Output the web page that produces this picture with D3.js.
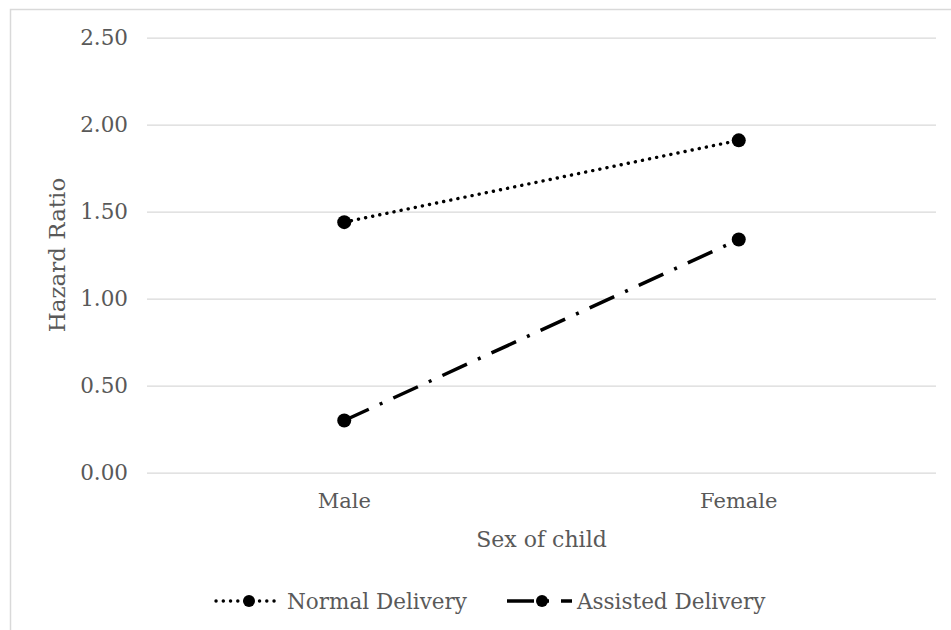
<!DOCTYPE html>
<html>
<head>
<meta charset="utf-8">
<script src="https://cdn.jsdelivr.net/npm/d3@7"></script>
<style>
  html, body { margin: 0; padding: 0; background: #fff; }
  svg { display: block; }
  text { font-family: "DejaVu Serif", serif; fill: #595959; }
</style>
</head>
<body>
<svg id="chart" width="951" height="630"></svg>
<script>
const categories = ["Male", "Female"];
const normalDelivery = [1.44, 1.91];
const assistedDelivery = [0.30, 1.34];
const yTicks = [0, 0.5, 1.0, 1.5, 2.0, 2.5];
const seriesNames = ["Normal Delivery", "Assisted Delivery"];

const svg = d3.select("#chart");
const W = 951, H = 630;

svg.append("rect").attr("x", 0).attr("y", 0).attr("width", W).attr("height", H).attr("fill", "#fff");
svg.append("rect").attr("x", 10.5).attr("y", 9.5).attr("width", 2000).attr("height", 2000)
  .attr("fill", "none").attr("stroke", "#d9d9d9").attr("stroke-width", 1.5);

const x = d3.scaleBand().domain(categories).range([147, 936]);
const y = d3.scaleLinear().domain([0, 2.5]).range([472.7, 37.7]);

// gridlines
const yAxis = d3.axisLeft(y).tickValues(yTicks).tickFormat(d3.format(".2f"))
  .tickSize(-(936 - 147)).tickPadding(19);
const gy = svg.append("g").attr("transform", "translate(147,0)").call(yAxis);
gy.select(".domain").remove();
gy.selectAll(".tick line").attr("stroke", "#d9d9d9").attr("stroke-width", 1.3);
gy.selectAll(".tick text").attr("font-size", 21.5).attr("fill", "#595959")
  .style("font-family", "'DejaVu Serif', serif");

const xAxis = d3.axisBottom(x).tickSize(0).tickPadding(20);
const gx = svg.append("g").attr("transform", "translate(0,472.7)").call(xAxis);
gx.select(".domain").remove();
gx.selectAll(".tick text").attr("font-size", 21).attr("fill", "#595959")
  .style("font-family", "'DejaVu Serif', serif");

// axis titles
svg.append("text").attr("x", (147 + 936) / 2).attr("y", 547).attr("text-anchor", "middle")
  .attr("font-size", 22).text("Sex of child");
svg.append("text").attr("transform", "translate(65,255) rotate(-90)").attr("text-anchor", "middle")
  .attr("font-size", 23).text("Hazard Ratio");

const cx = d => x(d) + x.bandwidth() / 2;
const line = d3.line().x(d => cx(d.c)).y(d => y(d.v));

const styles = [
  { data: normalDelivery, dash: "0.1,7.15", cap: "round", width: 3.4 },
  { data: assistedDelivery, dash: "27,12,3,12", cap: "butt", width: 3.5 }
];

styles.forEach(s => {
  const pts = categories.map((c, i) => ({ c, v: s.data[i] }));
  svg.append("path").datum(pts).attr("d", line).attr("fill", "none")
    .attr("stroke", "#000").attr("stroke-width", s.width)
    .attr("stroke-dasharray", s.dash).attr("stroke-linecap", s.cap);
  svg.selectAll(null).data(pts).enter().append("circle")
    .attr("cx", d => cx(d.c)).attr("cy", d => y(d.v)).attr("r", 7).attr("fill", "#000");
});

// legend
const legendY = 601;
const legendItems = [
  { x0: 216, x1: 277, mx: 249, tx: 287 },
  { x0: 507, x1: 572, mx: 542, tx: 577 }
];
legendItems.forEach((L, i) => {
  const s = styles[i];
  svg.append("line").attr("x1", L.x0).attr("x2", L.x1).attr("y1", legendY).attr("y2", legendY)
    .attr("stroke", "#000").attr("stroke-width", s.width)
    .attr("stroke-dasharray", s.dash).attr("stroke-linecap", s.cap);
  svg.append("circle").attr("cx", L.mx).attr("cy", legendY).attr("r", 6).attr("fill", "#000");
  svg.append("text").attr("x", L.tx).attr("y", legendY).attr("dy", "0.35em")
    .attr("font-size", 21.5).text(seriesNames[i]);
});
</script>
</body>
</html>
